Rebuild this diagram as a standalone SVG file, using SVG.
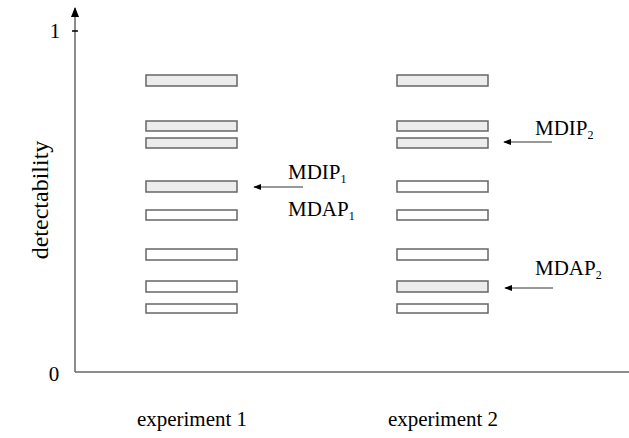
<svg xmlns="http://www.w3.org/2000/svg" width="629" height="438" viewBox="0 0 629 438">
<defs>
<style>
text{font-family:"Liberation Serif","Times New Roman",serif;fill:#000}
.t{font-size:21px}
.s{font-size:12px}
.bar{stroke:#666;stroke-width:1.5}
.g{fill:#ececec}
.w{fill:#fff}
.ax{stroke:#666;stroke-width:1.5;fill:none}
.ar{stroke:#333;stroke-width:1;fill:none;marker-end:url(#ah)}
</style>
<marker id="ah" viewBox="0 0 10 10" refX="9" refY="5" markerWidth="8" markerHeight="8" markerUnits="userSpaceOnUse" orient="auto"><path d="M0,1 L10,5 L0,9 z" fill="#000"/></marker>
<marker id="ah2" viewBox="0 0 10 10" refX="9" refY="5" markerWidth="10" markerHeight="10" markerUnits="userSpaceOnUse" orient="auto"><path d="M0,1 L10,5 L0,9 z" fill="#000"/></marker>
</defs>
<g id="axes">
<path class="ax" d="M75,372 V8" marker-end="url(#ah2)"/>
<path class="ax" d="M75,372 H629"/>
<path d="M72,31 H78" stroke="#000" stroke-width="1.5"/>
<text class="t" x="55" y="38" text-anchor="middle">1</text>
<text class="t" x="54" y="381" text-anchor="middle">0</text>
<text x="40" y="200" font-size="24" text-anchor="middle" transform="rotate(-90 40 200)" dy="8">detectability</text>
</g>
<g id="experiment1">
<rect class="bar g" x="146" y="75" width="91" height="11"/>
<rect class="bar g" x="146" y="121" width="91" height="10"/>
<rect class="bar g" x="146" y="138" width="91" height="10"/>
<rect class="bar g" x="146" y="181" width="91" height="11"/>
<rect class="bar w" x="146" y="210" width="91" height="10"/>
<rect class="bar w" x="146" y="249" width="91" height="11"/>
<rect class="bar w" x="146" y="281" width="91" height="11"/>
<rect class="bar w" x="146" y="304" width="91" height="9"/>
<text class="t" x="192" y="426" text-anchor="middle">experiment 1</text>
</g>
<g id="experiment2">
<rect class="bar g" x="397" y="75" width="91" height="11"/>
<rect class="bar g" x="397" y="121" width="91" height="10"/>
<rect class="bar g" x="397" y="138" width="91" height="10"/>
<rect class="bar w" x="397" y="181" width="91" height="11"/>
<rect class="bar w" x="397" y="210" width="91" height="10"/>
<rect class="bar w" x="397" y="249" width="91" height="11"/>
<rect class="bar g" x="397" y="281" width="91" height="11"/>
<rect class="bar w" x="397" y="304" width="91" height="9"/>
<text class="t" x="443" y="426" text-anchor="middle">experiment 2</text>
</g>
<g id="connectors">
<path class="ar" d="M303,187 H254"/>
<path class="ar" d="M552,142 H504"/>
<path class="ar" d="M553,288 H505"/>
</g>
<g id="label-mdip1"><text class="t" x="288" y="179">MDIP<tspan class="s" dy="4">1</tspan></text></g>
<g id="label-mdap1"><text class="t" x="288" y="216">MDAP<tspan class="s" dy="4">1</tspan></text></g>
<g id="label-mdip2"><text class="t" x="535" y="135">MDIP<tspan class="s" dy="4">2</tspan></text></g>
<g id="label-mdap2"><text class="t" x="535" y="275">MDAP<tspan class="s" dy="4">2</tspan></text></g>
</svg>
